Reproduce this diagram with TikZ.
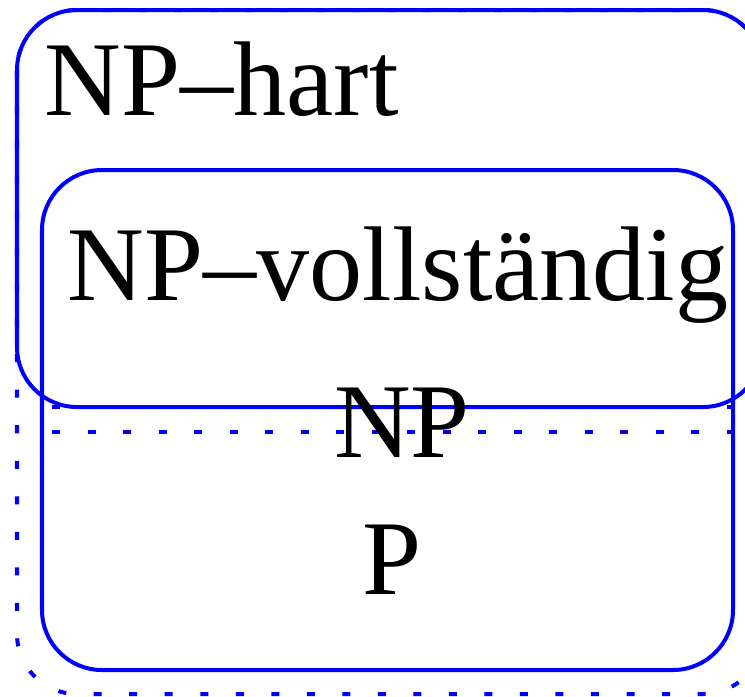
\documentclass[tikz,border=0pt]{standalone}
\usepackage{fontspec}
\setmainfont{Liberation Serif}

\tikzset{
  setline/.style={draw=blue, line width=0.04cm, rounded corners=0.6cm},
  setdots/.style={draw=blue, line width=0.04cm, dash pattern=on 0.08cm off 0.275cm},
  setlabel/.style={inner sep=0pt, font=\fontsize{30.2pt}{36pt}\selectfont}
}

\begin{document}
\begin{tikzpicture}[x=0.01cm, y=-0.01cm]
                \useasboundingbox (0, 0) rectangle (745, 696);
                \clip (0, 0) rectangle (745, 696);
                % Dotted outer set and borders:
                \draw[setdots, rounded corners=0.6cm] (17, 10) rectangle (763, 694);
                \draw[setdots] (52, 407) -- (733, 407);
                \draw[setdots] (52, 432) -- (733, 432);
                % Solid sets:
                \draw[setline] (17, 10) rectangle (763, 407);
                \draw[setline] (42, 170) rectangle (733, 670);
                % Labels:
                \node[setlabel, anchor=base west] (hart) at (44, 115) {NP\textendash hart};
                \node[setlabel, anchor=base west] (vollst) at (67, 300) {NP\textendash vollständig};
                \node[setlabel, anchor=base] (np) at (402, 457) {NP};
                \node[setlabel, anchor=base] (p) at (392, 594) {P};
            \end{tikzpicture}
\end{document}
